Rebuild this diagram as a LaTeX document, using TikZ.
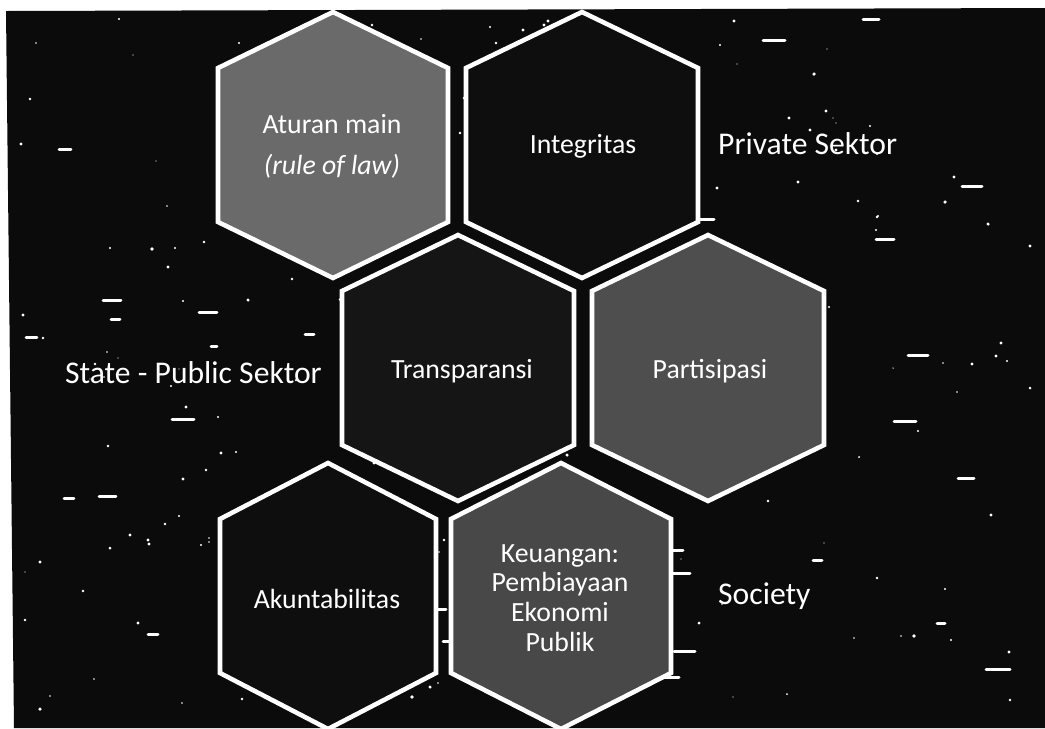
\documentclass[tikz,border=0pt]{standalone}
\usepackage{fontspec}
\setmainfont{Carlito}
\usepackage{tikz}
\usetikzlibrary{positioning}
\definecolor{ScanBlack}{HTML}{0B0B0B}
\definecolor{HexLight}{HTML}{6A6A6A}
\definecolor{HexMid}{HTML}{4E4E4E}
\definecolor{HexWarm}{HTML}{484848}
\definecolor{HexDark}{HTML}{151515}
\definecolor{HexInk}{HTML}{0E0E0E}

\tikzset{
  hexline/.style={draw=white, line width=2.6pt},
  hexlabel/.style={white, font=\fontsize{15.8}{17}\selectfont, align=center},
  sidelabel/.style={white, font=\fontsize{18}{20}\selectfont},
  noisedot/.style={white},
  noisedash/.style={white, line width=1.7pt, line cap=round},
}

\begin{document}
\begin{tikzpicture}[x=0.02cm, y=-0.02cm]
  \useasboundingbox (0,0) rectangle (1045,728);
  %% scanned page
  \fill[white] (0,0) rectangle (1045,728);
  \fill[ScanBlack] (6,11) -- (1045,8) -- (1045,728) -- (14,728) -- cycle;
  %% specks
  \pgfmathsetseed{4711}
  \foreach \i in {1,...,190} {
    \pgfmathsetmacro{\px}{random(20,1038)}
    \pgfmathsetmacro{\py}{random(16,722)}
    \pgfmathsetmacro{\pr}{0.6+rnd*1.2}
    \fill[noisedot] (\px,\py) circle (\pr);
  }
  \foreach \i in {1,...,55} {
    \pgfmathsetmacro{\px}{random(20,1020)}
    \pgfmathsetmacro{\py}{random(16,722)}
    \pgfmathsetmacro{\pl}{random(6,24)}
    \draw[noisedash] (\px,\py) -- (\px+\pl,\py);
  }
  %% hexagons
  \foreach \cx/\cy/\hw/\col in {333/145/115/HexLight, 582/145/116/HexInk,
      458/368/116/HexDark, 708/368/116/HexMid,
      328/596/108/HexInk, 561/596/110/HexWarm}
    \filldraw[hexline, fill=\col] (\cx,\cy-133) -- (\cx+\hw,\cy-77) -- (\cx+\hw,\cy+77)
      -- (\cx,\cy+133) -- (\cx-\hw,\cy+77) -- (\cx-\hw,\cy-77) -- cycle;
  %% text
  \node[hexlabel, font=\fontsize{15.8}{23.3}\selectfont] (aturan) at (332,146)
    {Aturan main\\\textit{(rule of law)}};
  \node[hexlabel] (integritas) at (583,146) {Integritas};
  \node[hexlabel] (transparansi) at (462,371) {Transparansi};
  \node[hexlabel] (partisipasi) at (710,371) {Partisipasi};
  \node[hexlabel] (akuntabilitas) at (327,599) {Akuntabilitas};
  \node[hexlabel] (keuangan) at (560,598)
    {Keuangan:\\Pembiayaan\\Ekonomi\\Publik};
  \node[sidelabel, anchor=west] (private) at (712,144) {Private Sektor};
  \node[sidelabel, anchor=east] (state) at (328,373) {State - Public Sektor};
  \node[sidelabel, anchor=west] (society) at (712,596) {Society};
\end{tikzpicture}
\end{document}
